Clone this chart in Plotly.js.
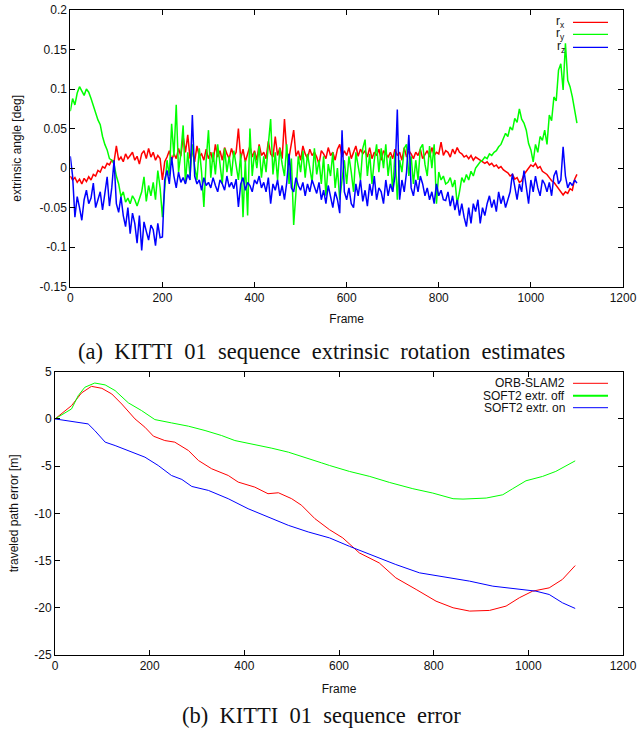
<!DOCTYPE html>
<html>
<head>
<meta charset="utf-8">
<script src="https://cdn.plot.ly/plotly-3.0.1.min.js"></script>
<style>
html,body{margin:0;padding:0;background:#fff;}
#chart{width:639px;height:736px;}
</style>
</head>
<body>
<div id="chart"></div>
<script>
// ---------- Data: (a) extrinsic rotation estimates, one value every 5 frames (frame 0..1100) ----------
const rotFrameStart = 0;
const rotFrameStep = 5;
const rxValues = [
  -0.010,-0.015,-0.012,-0.018,-0.014,-0.020,-0.013,-0.017,-0.011,-0.015,
  -0.008,-0.010,-0.003,-0.005,0.002,0.000,0.006,0.004,0.010,0.008,
  0.028,0.010,0.014,0.008,0.018,0.012,0.016,0.020,0.010,0.015,
  0.005,0.018,0.022,0.012,0.025,0.014,0.020,0.010,0.016,0.012,
  -0.015,0.008,0.014,0.022,0.010,0.018,0.012,0.025,0.015,0.040,
  0.020,0.042,0.012,0.022,0.008,0.028,0.015,0.018,0.010,0.024,
  0.012,0.020,0.008,0.030,0.014,0.022,0.010,0.026,0.018,0.012,
  0.025,0.015,0.020,0.050,0.012,0.024,0.008,0.018,0.028,0.014,
  0.022,0.010,0.030,0.016,0.020,0.012,0.034,0.018,0.014,0.040,
  0.016,0.026,0.012,0.062,0.020,0.014,0.030,0.048,0.015,0.022,
  0.010,0.028,0.018,0.012,0.024,0.016,0.020,0.014,0.005,0.022,
  0.018,0.012,0.026,0.016,0.020,0.010,0.024,0.030,0.014,0.022,
  0.016,0.026,0.012,0.020,0.028,0.015,0.024,0.018,0.022,0.014,
  0.026,0.012,0.020,0.016,0.024,0.010,0.022,0.018,0.014,0.020,
  0.012,0.024,0.016,0.020,0.010,0.026,0.014,0.022,0.018,0.012,
  0.020,0.016,0.024,0.012,0.018,0.022,0.014,0.026,0.016,0.020,
  0.018,0.033,0.016,0.022,0.020,0.014,0.024,0.018,0.026,0.020,
  0.018,0.014,0.016,0.012,0.016,0.010,0.014,0.012,0.010,0.008,
  0.006,0.008,0.004,0.006,0.002,0.004,0.000,0.002,-0.002,-0.004,
  -0.006,-0.010,-0.008,-0.014,-0.012,-0.018,-0.016,-0.008,-0.004,0.000,
  0.004,0.002,0.006,0.000,0.002,-0.004,-0.006,-0.008,-0.012,-0.016,
  -0.018,-0.022,-0.026,-0.030,-0.034,-0.030,-0.032,-0.026,-0.028,-0.014,
  -0.008
];
const ryValues = [
  0.072,0.088,0.080,0.095,0.103,0.098,0.092,0.100,0.096,0.088,
  0.078,0.070,0.061,0.055,0.040,0.030,0.023,0.012,0.010,0.005,
  -0.010,-0.020,-0.036,-0.030,-0.043,-0.038,-0.045,-0.035,-0.040,-0.048,
  -0.038,-0.030,-0.011,-0.042,-0.022,-0.035,-0.018,-0.040,-0.003,-0.025,
  -0.062,-0.020,0.010,-0.010,0.056,0.015,0.080,-0.005,0.018,0.054,
  -0.019,0.020,-0.010,0.030,0.002,-0.015,0.025,-0.005,-0.049,0.010,
  0.048,-0.012,0.020,-0.008,0.030,0.005,-0.020,0.025,-0.005,0.015,
  -0.010,0.022,0.002,-0.015,0.018,-0.062,0.010,-0.060,0.050,-0.010,
  0.020,0.000,0.028,-0.012,0.015,-0.005,0.030,0.062,-0.008,0.020,
  -0.015,0.025,0.005,-0.010,0.030,-0.020,0.012,-0.072,-0.030,0.015,
  -0.005,0.022,-0.012,0.018,0.000,-0.018,0.025,-0.008,0.010,-0.020,
  0.015,-0.035,0.005,-0.010,0.020,-0.025,0.000,-0.040,-0.015,0.010,
  -0.020,0.015,-0.005,-0.030,0.020,0.000,-0.015,0.025,0.036,-0.010,
  0.018,-0.020,0.010,0.030,-0.005,0.025,0.000,0.030,-0.010,0.015,
  -0.030,0.020,-0.040,0.010,-0.005,0.025,0.030,-0.010,0.015,-0.020,
  0.010,-0.015,0.025,0.030,0.005,-0.010,0.028,0.000,0.030,-0.045,
  -0.005,-0.015,-0.010,-0.020,-0.018,-0.012,-0.024,-0.015,-0.045,-0.030,
  -0.012,-0.018,-0.008,-0.015,-0.004,-0.010,0.000,0.004,0.008,0.010,
  0.014,0.012,0.018,0.016,0.020,0.022,0.027,0.030,0.038,0.044,
  0.040,0.052,0.048,0.063,0.058,0.075,0.062,0.057,0.048,0.031,
  0.023,0.008,0.030,0.020,0.040,0.035,0.048,0.030,0.067,0.060,
  0.090,0.085,0.124,0.132,0.099,0.158,0.111,0.103,0.090,0.071,
  0.057
];
const rzValues = [
  0.015,-0.010,-0.062,-0.036,-0.050,-0.066,-0.040,-0.028,-0.045,-0.038,
  -0.019,-0.050,-0.040,-0.030,-0.053,-0.035,-0.011,-0.048,-0.025,0.010,
  -0.045,-0.056,-0.036,-0.060,-0.074,-0.050,-0.083,-0.057,-0.070,-0.095,
  -0.060,-0.104,-0.068,-0.080,-0.091,-0.072,-0.078,-0.098,-0.070,-0.088,
  -0.087,-0.015,-0.003,-0.020,0.014,-0.010,-0.025,-0.005,-0.018,-0.012,
  -0.020,-0.008,-0.015,0.067,-0.010,-0.020,-0.015,-0.028,-0.012,-0.022,
  -0.018,-0.025,-0.012,-0.022,-0.030,-0.015,-0.020,-0.028,-0.010,-0.024,
  -0.018,-0.026,-0.014,-0.049,-0.020,-0.012,-0.028,-0.018,-0.022,-0.030,
  -0.015,-0.020,-0.010,-0.025,-0.018,-0.030,-0.012,-0.045,-0.020,-0.028,
  -0.015,-0.035,-0.022,-0.040,-0.018,0.018,-0.025,-0.030,-0.012,-0.022,
  -0.028,-0.018,-0.035,-0.020,-0.030,-0.015,-0.025,-0.032,-0.018,-0.040,
  -0.028,-0.045,-0.022,-0.035,-0.050,-0.030,-0.040,-0.057,0.048,-0.030,
  -0.040,-0.025,-0.045,-0.050,-0.020,-0.035,-0.015,-0.042,-0.028,-0.048,
  -0.020,-0.035,-0.010,-0.040,-0.025,-0.030,-0.045,-0.015,-0.035,-0.020,
  -0.030,-0.010,0.074,-0.040,-0.015,-0.030,-0.005,0.042,-0.025,-0.035,
  -0.015,-0.030,-0.010,-0.020,-0.035,-0.025,-0.040,-0.030,-0.045,-0.020,
  -0.035,-0.028,-0.040,-0.041,-0.030,-0.048,-0.035,-0.053,-0.040,-0.060,
  -0.045,-0.062,-0.074,-0.050,-0.070,-0.045,-0.055,-0.040,-0.070,-0.050,
  -0.060,-0.045,-0.035,-0.050,-0.040,-0.055,-0.030,-0.045,-0.035,-0.050,
  -0.040,-0.030,-0.007,-0.025,-0.040,-0.020,-0.030,-0.003,-0.025,-0.045,
  -0.015,-0.030,-0.010,-0.025,-0.035,-0.015,-0.020,-0.030,-0.018,-0.035,
  -0.010,-0.003,-0.020,-0.015,0.027,-0.010,-0.025,-0.018,-0.022,-0.015,
  -0.019
];

// ---------- Data: (b) traveled path error ----------
const orbFrames = [0,35,56,77,99,120,141,169,190,208,232,253,282,303,331,366,387,422,450,472,500,521,549,580,608,643,685,720,763,805,841,876,918,953,981,1009,1044,1072,1099];
const orbError  = [0,1.41,2.75,3.45,3.24,2.64,1.58,0.0,-0.88,-1.83,-2.29,-2.46,-3.35,-4.4,-5.28,-5.99,-6.69,-7.22,-7.92,-7.82,-8.45,-9.15,-10.56,-11.73,-12.6,-14.19,-15.25,-16.83,-18.06,-19.3,-20.0,-20.35,-20.28,-19.82,-18.94,-18.24,-17.89,-17.0,-15.53];
const offFrames = [0,35,49,63,84,106,127,155,183,211,246,282,317,352,380,422,458,493,528,563,580,622,665,707,756,798,841,862,911,946,967,995,1030,1058,1099];
const offError  = [0,1.06,2.46,3.35,3.8,3.6,3.0,1.7,0.88,-0.07,-0.42,-0.77,-1.23,-1.76,-2.29,-2.71,-3.1,-3.52,-4.05,-4.65,-4.93,-5.56,-6.09,-6.73,-7.39,-7.85,-8.45,-8.49,-8.38,-8.03,-7.39,-6.55,-6.09,-5.56,-4.44];
const onFrames  = [0,35,70,84,106,127,155,190,218,246,268,289,324,366,408,450,493,535,580,622,671,720,770,826,876,925,974,1016,1044,1072,1099];
const onError   = [0,-0.25,-0.53,-1.23,-2.46,-2.82,-3.35,-4.05,-4.93,-5.99,-6.41,-7.15,-7.57,-8.45,-9.51,-10.39,-11.27,-11.97,-12.6,-13.49,-14.44,-15.42,-16.3,-16.76,-17.18,-17.71,-17.96,-18.24,-18.59,-19.47,-20.07];

// ---------- Tick labels ----------
const frameTicks = [0,200,400,600,800,1000,1200];
const frameTickText = ["0","200","400","600","800","1000","1200"];
const angleTicks = [-0.15,-0.1,-0.05,0,0.05,0.1,0.15,0.2];
const angleTickText = ["-0.15","-0.1","-0.05","0","0.05","0.1","0.15","0.2"];
const errTicks = [-25,-20,-15,-10,-5,0,5];
const errTickText = ["-25","-20","-15","-10","-5","0","5"];

// ---------- Labels ----------
const rotNames = ["r<sub>x</sub>","r<sub>y</sub>","r<sub>z</sub>"];
const errNames = ["ORB-SLAM2","SOFT2 extr. off","SOFT2 extr. on"];
const captionA = "(a) KITTI 01 sequence extrinsic rotation estimates";
const captionB = "(b) KITTI 01 sequence error";

// ---------- Layout geometry (pixels) ----------
const W = 639, H = 736;
const M = {l:55, r:16, t:10, b:81};
const PW = W - M.l - M.r, PH = H - M.t - M.b;
const px = p => (p - M.l) / PW;
const py = p => (H - M.b - p) / PH;

const RED = "#ff0000", GREEN = "#00ff00", BLUE = "#0000ff";
const FONT = "Liberation Sans, Arial, sans-serif";
const SERIF = "Liberation Serif, Times New Roman, serif";
// justified caption spacing (LaTeX-like wider word gaps)
const wide = s => s.split(" ").join("\u2002");

const traces = [
  {x0: rotFrameStart, dx: rotFrameStep, y: rxValues, name: rotNames[0], type: "scatter", mode: "lines", line: {color: RED, width: 1.5}, xaxis: "x", yaxis: "y"},
  {x0: rotFrameStart, dx: rotFrameStep, y: ryValues, name: rotNames[1], type: "scatter", mode: "lines", line: {color: GREEN, width: 1.5}, xaxis: "x", yaxis: "y"},
  {x0: rotFrameStart, dx: rotFrameStep, y: rzValues, name: rotNames[2], type: "scatter", mode: "lines", line: {color: BLUE, width: 1.5}, xaxis: "x", yaxis: "y"},
  {x: orbFrames, y: orbError, name: errNames[0], type: "scatter", mode: "lines", line: {color: RED, width: 1}, xaxis: "x2", yaxis: "y2"},
  {x: offFrames, y: offError, name: errNames[1], type: "scatter", mode: "lines", line: {color: GREEN, width: 1}, xaxis: "x2", yaxis: "y2"},
  {x: onFrames, y: onError, name: errNames[2], type: "scatter", mode: "lines", line: {color: BLUE, width: 1}, xaxis: "x2", yaxis: "y2"}
];

const axisCommon = {
  showline: true, linecolor: "#000", linewidth: 1, mirror: "ticks",
  ticks: "inside", ticklen: 5, tickwidth: 1, tickcolor: "#000",
  showgrid: false, zeroline: false, automargin: false,
  tickfont: {family: FONT, size: 12, color: "#111"}
};

const annotations = [
  {text: wide(captionA), xref: "paper", yref: "paper", x: px(321), y: py(351), xanchor: "center", yanchor: "middle", showarrow: false, font: {family: SERIF, size: 22.5, color: "#111"}},
  {text: wide(captionB), xref: "paper", yref: "paper", x: px(321), y: py(716), xanchor: "center", yanchor: "middle", showarrow: false, font: {family: SERIF, size: 22.5, color: "#111"}}
];
const shapes = [];
const legA = [[22.3, RED], [34.3, GREEN], [47.3, BLUE]];
legA.forEach((d, i) => {
  annotations.push({text: rotNames[i], xref: "paper", yref: "paper", x: px(566), y: py(d[0]), xanchor: "right", yanchor: "middle", showarrow: false, borderpad: 0, font: {family: FONT, size: 12, color: "#111"}});
  shapes.push({type: "line", xref: "paper", yref: "paper", x0: px(573), x1: px(608), y0: py(d[0]), y1: py(d[0]), line: {color: d[1], width: 1.3}});
});
const legB = [[383.3, RED, 1], [395.7, GREEN, 2], [407.7, BLUE, 1]];
legB.forEach((d, i) => {
  annotations.push({text: errNames[i], xref: "paper", yref: "paper", x: px(566), y: py(d[0]), xanchor: "right", yanchor: "middle", showarrow: false, borderpad: 0, font: {family: FONT, size: 12, color: "#111"}});
  shapes.push({type: "line", xref: "paper", yref: "paper", x0: px(573), x1: px(608), y0: py(d[0]), y1: py(d[0]), line: {color: d[1], width: d[2]}});
});

const layout = {
  width: W, height: H,
  margin: M,
  paper_bgcolor: "#fff", plot_bgcolor: "#fff",
  showlegend: false,
  font: {family: FONT, size: 12, color: "#111"},
  xaxis: Object.assign({}, axisCommon, {domain: [px(70.3), 1], range: [0, 1200], anchor: "y", tickvals: frameTicks, ticktext: frameTickText,
    title: {text: "Frame", font: {family: FONT, size: 12, color: "#111"}, standoff: 10}}),
  yaxis: Object.assign({}, axisCommon, {domain: [py(286.7), 1], range: [-0.15, 0.2], anchor: "x", tickvals: angleTicks, ticktext: angleTickText,
    title: {text: "extrinsic angle [deg]", font: {family: FONT, size: 12, color: "#111"}, standoff: 15}}),
  xaxis2: Object.assign({}, axisCommon, {domain: [0, 1], range: [0, 1200], anchor: "y2", tickvals: frameTicks, ticktext: frameTickText,
    title: {text: "Frame", font: {family: FONT, size: 12, color: "#111"}, standoff: 12}}),
  yaxis2: Object.assign({}, axisCommon, {domain: [0, py(371.7)], range: [-25, 5], anchor: "x2", tickvals: errTicks, ticktext: errTickText,
    title: {text: "traveled path error [m]", font: {family: FONT, size: 12, color: "#111"}, standoff: 13}}),
  annotations: annotations,
  shapes: shapes
};

Plotly.newPlot("chart", traces, layout, {displayModeBar: false, staticPlot: true});
</script>
</body>
</html>
